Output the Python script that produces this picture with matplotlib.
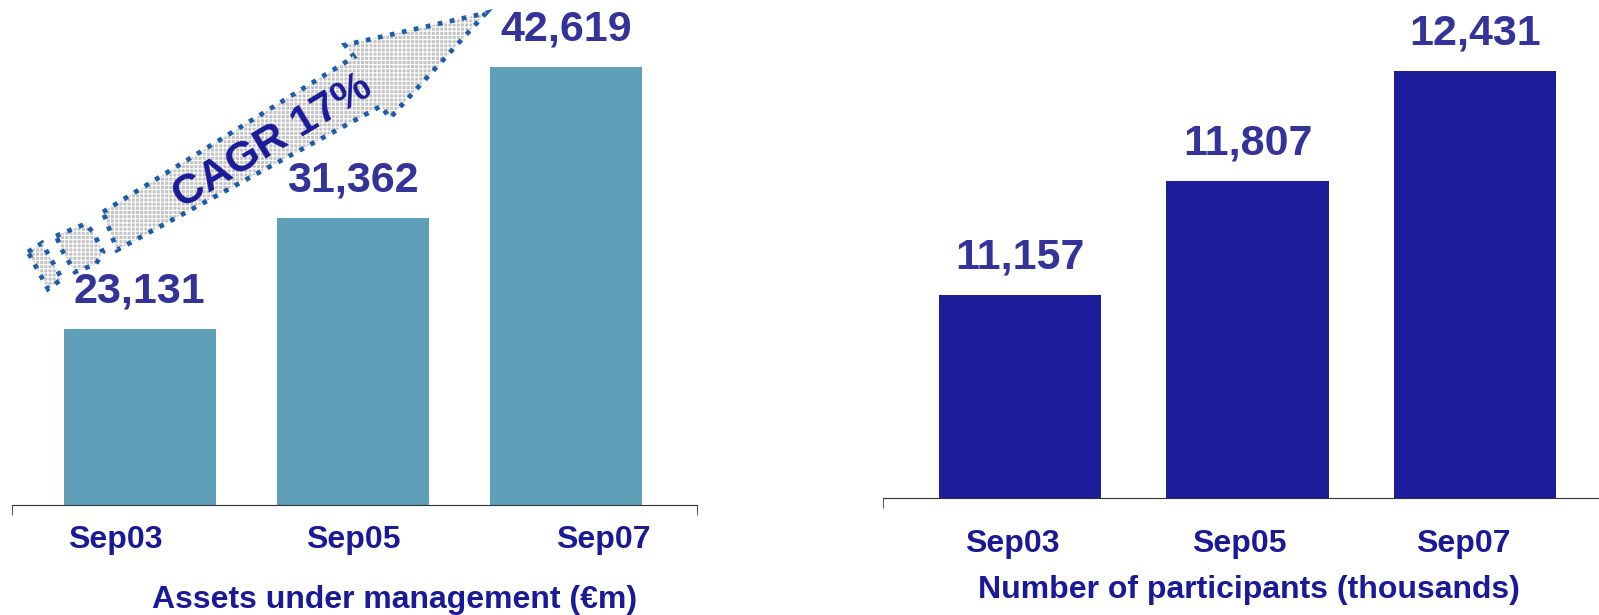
import matplotlib
matplotlib.use("Agg")
import matplotlib.pyplot as plt
from matplotlib.patches import Polygon

plt.rcParams["font.family"] = ["Liberation Sans", "DejaVu Sans"]
plt.rcParams["font.weight"] = "bold"
plt.rcParams["hatch.linewidth"] = 0.8

# Données
periodes = ["Sep03", "Sep05", "Sep07"]
actifs = [23131, 31362, 42619]          # en M€
participants = [11157, 11807, 12431]    # en milliers
titre_actifs = "Assets under management (€m)"
titre_participants = "Number of participants (thousands)"
texte_cagr = "CAGR 17%"

# Palette
BLEU_CLAIR = "#5f9fb8"
BLEU_FONCE = "#1b1d9b"
BLEU_VALEUR = "#333399"
BLEU_TEXTE = "#1a1a99"
BLEU_POINTILLE = "#1c5ca8"
GRIS_AXE = "#333333"

W, H = 1599, 615
fig = plt.figure(figsize=(W / 100, H / 100), dpi=100)


def px(x, y):
    """Pixels (origine en haut à gauche) -> fraction de figure."""
    return x / W, 1 - y / H


def panneau(rect, valeurs, couleur, xlim, ylim, decalages, y_ticks, tick_droite=True):
    ax = fig.add_axes(rect)
    x = range(len(valeurs))
    barres = ax.bar(x, valeurs, width=0.713, color=couleur)
    for b, v in zip(barres, valeurs):
        ax.annotate(f"{v:,}", (b.get_x() + b.get_width() / 2, v),
                    xytext=(0, 19), textcoords="offset points",
                    ha="center", va="baseline", fontsize=31,
                    color=BLEU_VALEUR, annotation_clip=False)

    ax.set_xlim(*xlim)
    ax.set_ylim(*ylim)
    for s in ("top", "left", "right"):
        ax.spines[s].set_visible(False)
    ax.spines["bottom"].set_color(GRIS_AXE)
    ax.set_yticks([])
    ax.set_xticks([])
    bouts = [xlim[0], xlim[1]] if tick_droite else [xlim[0]]
    ax.set_xticks(bouts, minor=True)
    ax.tick_params(axis="x", which="minor", length=7, direction="out",
                   color=GRIS_AXE, labelbottom=False)

    # étiquettes de période (légèrement décalées comme dans l'original)
    for i, (lab, d) in enumerate(zip(periodes, decalages)):
        ax.text(i + d, y_ticks, lab, transform=ax.get_xaxis_transform(),
                ha="center", va="baseline", fontsize=23, color=BLEU_TEXTE)
    return ax


# Panneau gauche : actifs
panneau([12 / W, 110 / H, 685 / W, 505 / H], actifs, BLEU_CLAIR,
        (-0.60, 2.615), (10000, 47608), [-0.115, 0.0, 0.175], -0.085)
fig.text(395 / W, 1 - 608 / H, titre_actifs, ha="center", va="baseline",
         fontsize=23, color=BLEU_TEXTE)

# Panneau droit : participants
panneau([883 / W, 117 / H, (W - 883) / W, 498 / H], participants, BLEU_FONCE,
        (-0.602, 2.545), (10000, 12835), [-0.035, -0.036, -0.053], -0.108,
        tick_droite=False)
fig.text(1249 / W, 1 - 598 / H, titre_participants, ha="center", va="baseline",
         fontsize=23, color=BLEU_TEXTE)

# Flèche CAGR (contour pointillé, remplissage tramé)
formes = [
    [(103, 212), (354, 57), (345, 45), (486, 13), (390, 118), (381, 106), (117, 250)],
    [(56, 236), (85, 224), (93, 232), (103, 252), (96, 264), (75, 272), (63, 252)],
    [(28, 252), (42, 243), (62, 279), (48, 289)],
]
for forme in formes:
    pts = [px(x, y) for x, y in forme]
    fig.add_artist(Polygon(pts, closed=True, transform=fig.transFigure,
                           facecolor="#c4c4c4", edgecolor="white",
                           hatch="++++", linewidth=0))
    fig.add_artist(Polygon(pts, closed=True, transform=fig.transFigure,
                           fill=False, edgecolor=BLEU_POINTILLE,
                           linewidth=3.4, linestyle=(0, (1, 1.6))))

fig.text(273 / W, 1 - 142 / H, texte_cagr, rotation=31, rotation_mode="anchor",
         ha="center", va="center", fontsize=31, color=BLEU_TEXTE)

fig.savefig("out.png", dpi=100)
